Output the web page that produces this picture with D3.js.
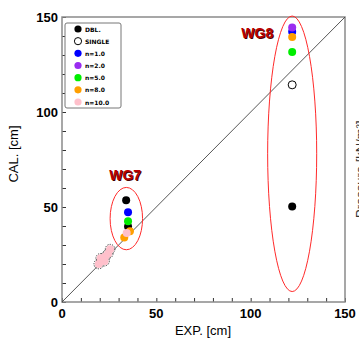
<!DOCTYPE html>
<html>
<head>
<meta charset="utf-8">
<script src="https://cdn.jsdelivr.net/npm/d3@7"></script>
<style>
  html, body { margin: 0; padding: 0; background: #fff; }
  svg { display: block; }
  .tick-lbl { font-family: "Liberation Sans", Arial, sans-serif; font-weight: bold; font-size: 13px; }
</style>
</head>
<body>
<div id="chart"></div>
<script>
// EXP. vs CAL. scatter, two groups (WG7, WG8) circled

const SERIES = ["DBL.", "SINGLE", "n=1.0", "n=2.0", "n=5.0", "n=8.0", "n=10.0"];
const COLORS = ["#000000", "#ffffff", "#0000ff", "#9a2cf0", "#00ee00", "#ff9f00", "#ffc0cb"];

// [exp, cal] pairs per series
const DBL = [[34, 53.5], [35, 39.8], [122, 50.3]];
const SINGLE = [[122, 114.3]];
const N1 = [[35, 47.2], [122, 142.2]];
const N2 = [[122, 144.5]];
const N5 = [[35, 42.5], [122, 131.6]];
const N8 = [[36, 37.2], [33, 34], [122, 139.5]];
const N10 = [[34.3, 36.3], [19.5, 20], [21, 22], [22.5, 21.5], [23, 24], [24.5, 25.5], [25.5, 27.8], [20.5, 23]];
const DATA = [DBL, SINGLE, N1, N2, N5, N8, N10];

const X_TICKS = [0, 50, 100, 150];
const Y_TICKS = [0, 50, 100, 150];

// group circles: [cx, cy, rx, ry] in data units
const GROUPS = [
  { label: "WG7", ell: [34.1, 43.9, 8.6, 16.4], at: [33.5, 64] },
  { label: "WG8", ell: [122, 78, 13, 72.5], at: [103.5, 139] },
];

const W = 359, H = 338;
const svg = d3.select("#chart").append("svg").attr("width", W).attr("height", H);

const x = d3.scaleLinear().domain([0, 150]).range([62, 345]);
const y = d3.scaleLinear().domain([0, 150]).range([302, 17]);

// partly clipped label from a neighbouring chart
svg.append("text")
  .attr("transform", "translate(365,218) rotate(-90)")
  .attr("font-family", "Liberation Sans, Arial, sans-serif")
  .attr("font-size", 13).attr("fill", "#333")
  .text("Pressure [kN/m²]");

// inner minor ticks
const gx = svg.append("g").attr("transform", `translate(0,${y(0)})`)
  .call(d3.axisBottom(x).tickValues(d3.range(0, 151, 10)).tickSize(-4).tickFormat(""));
const gy = svg.append("g").attr("transform", `translate(${x(0)},0)`)
  .call(d3.axisLeft(y).tickValues(d3.range(0, 151, 10)).tickSize(-4).tickFormat(""));
[gx, gy].forEach(g => {
  g.select(".domain").remove();
  g.selectAll(".tick line").attr("stroke", "#333").attr("stroke-width", 1);
});

// frame
svg.append("rect")
  .attr("x", x(0)).attr("y", y(150))
  .attr("width", x(150) - x(0)).attr("height", y(0) - y(150))
  .attr("fill", "none").attr("stroke", "#8a8a8a").attr("stroke-width", 1.5);

// tick labels
svg.selectAll(".xl").data(X_TICKS).enter().append("text")
  .attr("class", "tick-lbl").attr("x", d => x(d)).attr("y", 318)
  .attr("text-anchor", "middle").text(d => d);
svg.selectAll(".yl").data(Y_TICKS).enter().append("text")
  .attr("class", "tick-lbl").attr("x", 58).attr("y", d => y(d) + 5)
  .attr("text-anchor", "end").text(d => d);

// axis titles
svg.append("text").attr("x", 203).attr("y", 335).attr("text-anchor", "middle")
  .attr("font-family", "Liberation Sans, Arial, sans-serif").attr("font-size", 13)
  .text("EXP. [cm]");
svg.append("text").attr("transform", "translate(18,154) rotate(-90)").attr("text-anchor", "middle")
  .attr("font-family", "Liberation Sans, Arial, sans-serif").attr("font-size", 13)
  .text("CAL. [cm]");

// 1:1 line
svg.append("line")
  .attr("x1", x(0)).attr("y1", y(0)).attr("x2", x(150)).attr("y2", y(150))
  .attr("stroke", "#444").attr("stroke-width", 0.9);

// points
const R = 4;
const pts = svg.append("g");
// dotted outline under the pink cluster
pts.selectAll(".halo").data(N10.slice(1)).enter().append("circle")
  .attr("cx", d => x(d[0])).attr("cy", d => y(d[1])).attr("r", R + 0.8)
  .attr("fill", "none").attr("stroke", "#333").attr("stroke-width", 1)
  .attr("stroke-dasharray", "1.2,1.2");
DATA.forEach((s, i) => {
  pts.selectAll(".s" + i).data(s).enter().append("circle")
    .attr("cx", d => x(d[0])).attr("cy", d => y(d[1])).attr("r", R)
    .attr("fill", COLORS[i])
    .attr("stroke", i === 1 ? "#000" : "none").attr("stroke-width", 1);
});

// group ellipses and labels
GROUPS.forEach(g => {
  const [cx, cy, rx, ry] = g.ell;
  svg.append("ellipse")
    .attr("cx", x(cx)).attr("cy", y(cy))
    .attr("rx", x(rx) - x(0)).attr("ry", y(0) - y(ry))
    .attr("fill", "none").attr("stroke", "#ff2a2a").attr("stroke-width", 1);
  const t = (dx, dy, c) => svg.append("text")
    .attr("x", x(g.at[0]) + dx).attr("y", y(g.at[1]) + dy)
    .attr("text-anchor", "middle")
    .attr("font-family", "Liberation Sans, Arial, sans-serif")
    .attr("font-weight", "bold").attr("font-size", 14).attr("fill", c)
    .text(g.label);
  t(1, 1, "#4a0000");
  t(0, 0, "#b80000");
});

// legend
const lg = svg.append("g").attr("transform", "translate(65,23)");
lg.append("rect").attr("width", 56).attr("height", 85).attr("rx", 2)
  .attr("fill", "#fff").attr("stroke", "#777").attr("stroke-width", 1);
const ly = d3.scalePoint().domain(SERIES).range([6, 79]);
SERIES.forEach((s, i) => {
  lg.append("circle").attr("cx", 13).attr("cy", ly(s)).attr("r", 3.6)
    .attr("fill", COLORS[i]).attr("stroke", i === 1 ? "#000" : "none");
  lg.append("text").attr("x", 20).attr("y", ly(s) + 2.5)
    .attr("font-family", "DejaVu Sans, sans-serif").attr("font-weight", "bold")
    .attr("font-size", 6).text(s);
});
</script>
</body>
</html>
